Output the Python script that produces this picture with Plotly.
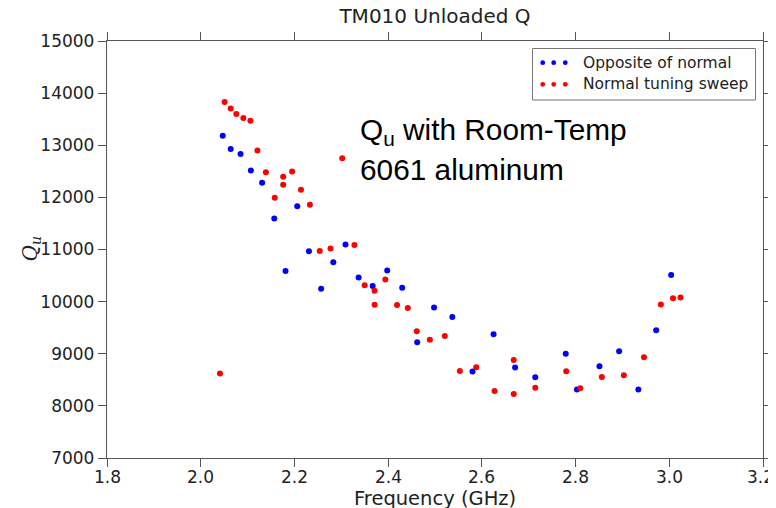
import plotly.graph_objects as go

# ---- data ----
blue_freq = [2.047, 2.064, 2.085, 2.107, 2.131, 2.157, 2.181, 2.206, 2.231, 2.257,
             2.283, 2.309, 2.337, 2.367, 2.398, 2.430, 2.462, 2.498, 2.537, 2.580,
             2.625, 2.671, 2.714, 2.779, 2.803, 2.851, 2.893, 2.934, 2.972, 3.004]
blue_q = [13184, 12929, 12834, 12514, 12279, 11597, 10589, 11832, 10966, 10245,
          10755, 11094, 10463, 10302, 10597, 10264, 9220, 9889, 9704, 8658,
          9373, 8735, 8551, 9002, 8314, 8761, 9048, 8314, 9449, 10512]

red_freq = [2.041, 2.051, 2.064, 2.076, 2.091, 2.106, 2.121, 2.139, 2.158, 2.176,
            2.176, 2.195, 2.214, 2.233, 2.254, 2.277, 2.302, 2.328, 2.350, 2.371,
            2.371, 2.394, 2.419, 2.442, 2.461, 2.489, 2.521, 2.553, 2.588, 2.627,
            2.668, 2.668, 2.714, 2.780, 2.810, 2.856, 2.903, 2.946, 2.982, 3.008, 3.024]
red_q = [8620, 13828, 13706, 13598, 13522, 13470, 12897, 12482, 11992, 12394,
         12241, 12495, 12145, 11858, 10971, 11017, 12750, 11086, 10315, 10207,
         9939, 10424, 9933, 9876, 9430, 9270, 9340, 8671, 8742, 8283,
         8881, 8226, 8346, 8665, 8340, 8556, 8589, 8933, 9946, 10067, 10080]

series_names = ["Opposite of normal", "Normal tuning sweep"]
series_colors = ["#0000ff", "#ff0000"]

x_ticks = [1.8, 2.0, 2.2, 2.4, 2.6, 2.8, 3.0, 3.2]
x_ticktext = ["1.8", "2.0", "2.2", "2.4", "2.6", "2.8", "3.0", "3.2"]
y_ticks = [7000, 8000, 9000, 10000, 11000, 12000, 13000, 14000, 15000]

title_text = "TM010 Unloaded Q"
xlabel = "Frequency (GHz)"
note_line1 = "Q<sub>u</sub> with Room-Temp"
note_line2 = "6061 aluminum"

# ---- layout geometry ----
# page body has an 8px margin, so the figure is offset by 8px in the window
OFF = 8
W, H = 776 - OFF, 508 - OFF
PL, PR, PT, PB = 107, 763, 41, 458          # plot area in window pixels
L, T = PL - OFF, PT - OFF
R = W - (PR - OFF)
B = H - (PB - OFF)
PW, PH = PR - PL, PB - PT


def px2x(px):
    return (px - PL) / PW


def py2y(py):
    return (PB - py) / PH


AX = "#555555"
TXT = "#222222"
FONT = "DejaVu Sans"

fig = go.Figure()
fig.add_trace(go.Scatter(x=blue_freq, y=blue_q, mode="markers", name=series_names[0],
                         marker=dict(color=series_colors[0], size=6, line=dict(width=0))))
fig.add_trace(go.Scatter(x=red_freq, y=red_q, mode="markers", name=series_names[1],
                         marker=dict(color=series_colors[1], size=6, line=dict(width=0))))

axis_common = dict(showline=True, linecolor=AX, linewidth=1.3, mirror="ticks",
                   ticks="outside", ticklen=8, tickwidth=1.3, tickcolor=AX,
                   showgrid=False, zeroline=False, automargin=False,
                   tickfont=dict(family=FONT, size=17, color=TXT))

# last x tick label sits at the window edge; draw all x labels as annotations
fig.update_xaxes(range=[1.8, 3.2], tickvals=x_ticks, ticktext=[""] * len(x_ticks),
                 **axis_common)
fig.update_yaxes(range=[7000, 15000], tickvals=y_ticks,
                 ticktext=[str(v) for v in y_ticks], **axis_common)

shapes = []
annotations = []

for k, (tv, tt) in enumerate(zip(x_ticks, x_ticktext)):
    annotations.append(dict(text=tt, xref="x", yref="paper", x=tv, y=py2y(477),
                            xanchor="center", yanchor="middle", showarrow=False,
                            xshift=-3 if k == len(x_ticks) - 1 else 0,
                            font=dict(family=FONT, size=17, color=TXT)))

# legend box
shapes.append(dict(type="rect", xref="paper", yref="paper",
                   x0=px2x(532.5), x1=px2x(755.5), y0=py2y(100), y1=py2y(48.5),
                   line=dict(color="#777777", width=1), fillcolor="white", layer="above"))
rows = [62.7, 84.3]
dots = [542.7, 553.7, 565.3]
for i, ry in enumerate(rows):
    for dx in dots:
        shapes.append(dict(type="circle", xref="paper", yref="paper",
                           xsizemode="pixel", ysizemode="pixel",
                           xanchor=px2x(dx), yanchor=py2y(ry),
                           x0=-2.4, x1=2.4, y0=-2.4, y1=2.4,
                           fillcolor=series_colors[i], line=dict(width=0), layer="above"))
    annotations.append(dict(text=series_names[i], xref="paper", yref="paper",
                            x=px2x(581), y=py2y(ry), xanchor="left", yanchor="middle",
                            showarrow=False, font=dict(family=FONT, size=15.5, color=TXT)))

# axis titles
annotations.append(dict(text=xlabel, xref="paper", yref="paper", x=0.5, y=py2y(498),
                        xanchor="center", yanchor="middle", showarrow=False,
                        font=dict(family=FONT, size=19.5, color=TXT)))
annotations.append(dict(text="<i>Q</i><sub><i>u</i></sub>", xref="paper", yref="paper",
                        x=px2x(30), y=0.5, xanchor="center", yanchor="middle",
                        textangle=-90, showarrow=False,
                        font=dict(family="DejaVu Serif", size=20, color=TXT)))

# note text
annotations.append(dict(text=note_line1, xref="paper", yref="paper", x=px2x(358), y=py2y(132),
                        xanchor="left", yanchor="middle", showarrow=False,
                        font=dict(family="Liberation Sans", size=29.8, color="black")))
annotations.append(dict(text=note_line2, xref="paper", yref="paper", x=px2x(358), y=py2y(169),
                        xanchor="left", yanchor="middle", showarrow=False,
                        font=dict(family="Liberation Sans", size=29.8, color="black")))

fig.update_layout(
    width=W, height=H,
    margin=dict(l=L, r=R, t=T, b=B),
    paper_bgcolor="white", plot_bgcolor="white",
    showlegend=False,
    title=dict(text=title_text, x=0.5, xref="paper", xanchor="center",
               y=1 - (16 - OFF) / H, yref="container", yanchor="middle",
               font=dict(family=FONT, size=20, color=TXT)),
    shapes=shapes, annotations=annotations,
)

fig.write_html("out.html")
